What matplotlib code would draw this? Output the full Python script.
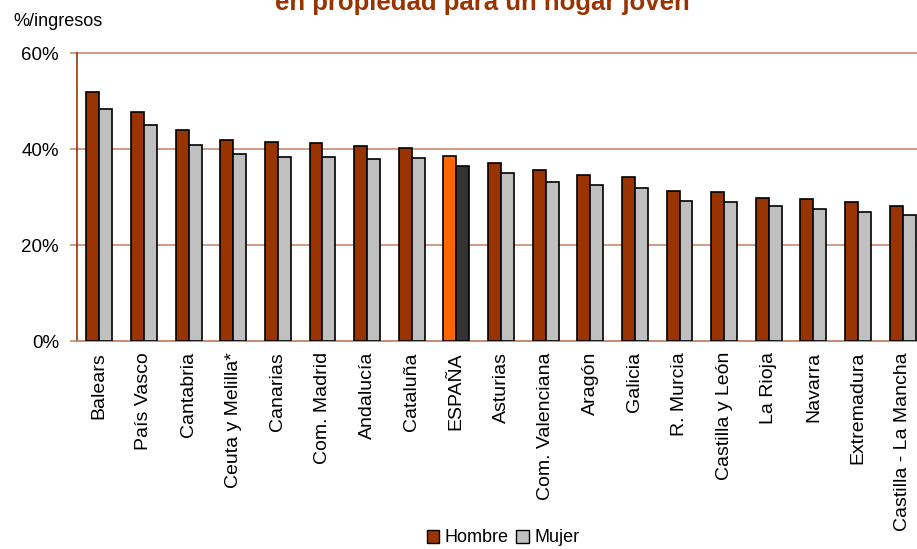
import numpy as np
import matplotlib
matplotlib.use('Agg')
import matplotlib.pyplot as plt

plt.rcParams['font.family'] = ['Liberation Sans', 'DejaVu Sans']

# Datos: esfuerzo de acceso a la vivienda (% de ingresos)
regiones = ['Balears', 'País Vasco', 'Cantabria', 'Ceuta y Melilla*', 'Canarias',
            'Com. Madrid', 'Andalucía', 'Cataluña', 'ESPAÑA', 'Asturias',
            'Com. Valenciana', 'Aragón', 'Galicia', 'R. Murcia', 'Castilla y León',
            'La Rioja', 'Navarra', 'Extremadura', 'Castilla - La Mancha']
hombre = [51.9, 47.7, 44.0, 41.8, 41.4, 41.2, 40.7, 40.3, 38.6, 37.1,
          35.6, 34.6, 34.2, 31.3, 31.1, 29.8, 29.6, 28.9, 28.2]
mujer = [48.3, 45.1, 40.8, 38.9, 38.4, 38.3, 37.9, 38.1, 36.4, 34.9,
         33.2, 32.6, 31.8, 29.2, 28.9, 28.1, 27.4, 26.9, 26.3]

c_hombre = '#993300'
c_mujer = '#C0C0C0'
c_grid = '#C98A6C'

col_h = ['#FF6600' if r == 'ESPAÑA' else c_hombre for r in regiones]
col_m = ['#333333' if r == 'ESPAÑA' else c_mujer for r in regiones]

fig = plt.figure(figsize=(9.17, 5.49), dpi=100)
ax = fig.add_axes([77 / 917, 1 - 341 / 549, 848 / 917, 288 / 549])

x = np.arange(len(regiones))
w = 0.29
ax.bar(x - w / 2, hombre, w, color=col_h, edgecolor='black', linewidth=1.2, zorder=3)
ax.bar(x + w / 2, mujer, w, color=col_m, edgecolor='black', linewidth=1.2, zorder=3)

ax.set_xlim(-0.5, len(regiones) - 0.5)
ax.set_ylim(0, 60)
ax.set_yticks([0, 20, 40, 60])
ax.set_yticklabels(['0%', '20%', '40%', '60%'], fontsize=13.5)
ax.yaxis.grid(True, color=c_grid, linewidth=1.2, zorder=0)
for gl in ax.get_ygridlines():
    gl.set_clip_on(False)
ax.tick_params(axis='y', length=5, color=c_grid, width=1.2, pad=8)

ax.set_xticks(x)
ax.set_xticklabels(regiones, rotation=90, fontsize=14, va='top')
ax.tick_params(axis='x', length=0, pad=8)

for s in ['top', 'right']:
    ax.spines[s].set_visible(False)
ax.spines['left'].set_color(c_hombre)
ax.spines['left'].set_linewidth(1.2)
ax.spines['bottom'].set_color(c_grid)
ax.spines['bottom'].set_linewidth(1.2)

fig.text(13 / 917, 1 - 22 / 549, '%/ingresos', fontsize=13, va='center', ha='left')
fig.text(482 / 917, 1 - 10 / 549, 'en propiedad para un hogar joven', fontsize=18.5,
         fontweight='bold', color=c_hombre, ha='center', va='baseline')

h1 = plt.Rectangle((0, 0), 1, 1, facecolor=c_hombre, edgecolor='black')
h2 = plt.Rectangle((0, 0), 1, 1, facecolor=c_mujer, edgecolor='black')
fig.legend([h1, h2], ['Hombre', 'Mujer'], loc='center', bbox_to_anchor=(503 / 917, 1 - 538 / 549),
           ncol=2, frameon=False, fontsize=13, handlelength=0.7, handleheight=0.7,
           handletextpad=0.3, columnspacing=0.4)

fig.savefig('out.png', dpi=100)
